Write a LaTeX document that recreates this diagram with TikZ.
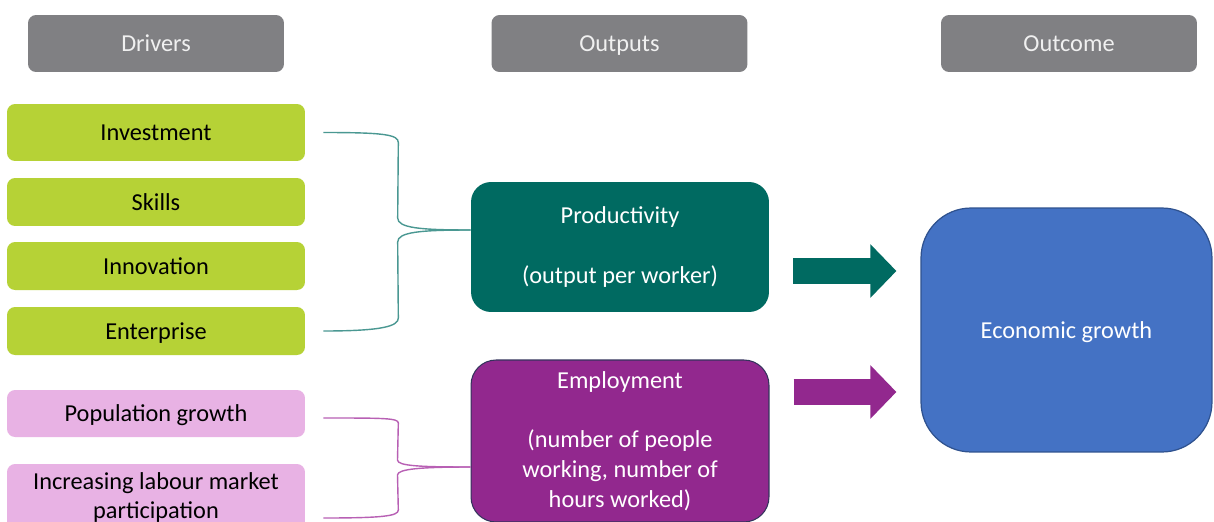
\documentclass[tikz,border=0pt]{standalone}
\usepackage{fontspec}
\setmainfont{Carlito}
\usetikzlibrary{calc,arrows.meta}
\definecolor{hdgrey}{RGB}{128,128,131}
\definecolor{drvgreen}{RGB}{182,210,54}
\definecolor{drvpink}{RGB}{232,178,228}
\definecolor{prodcol}{RGB}{0,106,97}
\definecolor{prodline}{RGB}{74,152,146}
\definecolor{empcol}{RGB}{146,40,142}
\definecolor{empline}{RGB}{184,96,180}
\definecolor{empedge}{RGB}{52,52,92}
\definecolor{econcol}{RGB}{68,114,196}
\definecolor{econedge}{RGB}{47,82,143}

\begin{document}
\begin{tikzpicture}[x=0.02cm,y=-0.02cm,
  every node/.style={font=\fontsize{13.85}{17}\selectfont, align=center, inner sep=0pt},
  oneline/.style={text height=10pt, text depth=0.4pt},
  head/.style={oneline, fill=hdgrey, text=white!94!black, minimum width=5.12cm, minimum height=1.14cm, rounded corners=0.16cm},
  driver/.style={oneline, fill=drvgreen, minimum width=5.96cm, minimum height=0.96cm, rounded corners=0.16cm},
  labour/.style={fill=drvpink, minimum width=5.96cm, minimum height=0.94cm, rounded corners=0.16cm},
  brace/.style={line width=0.8pt},
  fatarrow/.style={line width=0.52cm, -{Triangle[length=0.52cm,width=1.04cm]}}]
\useasboundingbox (0,0) rectangle (1214,521);
\clip (0,0) rectangle (1214,521);
\fill[white] (0,0) rectangle (1214,521);

% column heads
\node[head] (drivers) at (156,43.5) {Drivers};
\node[head] (outputs) at (619.5,43.5) {Outputs};
\node[head] (outcome) at (1069,43.5) {Outcome};

% drivers
\node[driver, minimum height=1.14cm] (inv) at (156,132.5) {Investment};
\node[driver] (skills) at (156,202) {Skills};
\node[driver] (innov) at (156,266) {Innovation};
\node[driver] (ent) at (156,331) {Enterprise};
\node[labour, oneline] (pop) at (156,413.5) {Population growth};
\node[labour, minimum height=1.34cm] (lab) at (156,497.5) {Increasing labour market\\participation};

% outputs and outcome
\node[fill=prodcol, text=white, minimum width=5.96cm, minimum height=2.6cm, rounded corners=0.4cm] (prod) at (620,247) {Productivity\\[17pt](output per worker)};
\node[fill=empcol, draw=empedge, line width=0.6pt, text=white, minimum width=5.96cm, minimum height=3.24cm, rounded corners=0.5cm] (emp) at (620,441) {Employment\\[17pt](number of people\\working, number of\\hours worked)};
\node[oneline, fill=econcol, draw=econedge, line width=0.7pt, text=white, minimum width=5.82cm, minimum height=4.88cm, rounded corners=1cm] (econ) at (1066.5,330) {Economic growth};

\coordinate (tb) at ($(prod.west)+(0,-17)$);
\coordinate (pb) at ($(emp.west)+(0,26)$);

% braces into the outputs
\draw[brace, prodline] ($(inv.east)+(18,0)$) .. controls +(60,0) and +(0,-8) .. ++(75,10)
  -- ($(tb)+(-73,-12)$) .. controls +(0,10) and +(-50,0) .. (tb);
\draw[brace, prodline] (tb) .. controls +(-50,0) and +(0,-10) .. ($(tb)+(-73,12)$)
  -- ($(ent.east)+(93,-13)$) .. controls +(0,8) and +(60,0) .. ($(ent.east)+(18,0)$);
\draw[brace, empline] ($(pop.east)+(18,4.5)$) .. controls +(60,0) and +(0,-5) .. ++(75,5)
  -- ($(pb)+(-73,-7)$) .. controls +(0,6) and +(-50,0) .. (pb);
\draw[brace, empline] (pb) .. controls +(-50,0) and +(0,-6) .. ($(pb)+(-73,8)$)
  -- ($(lab.east)+(93,12.5)$) .. controls +(0,6) and +(60,0) .. ($(lab.east)+(18,20.5)$);

% arrows to the outcome
\draw[fatarrow, prodcol] ($(prod.east)+(24,24)$) -- ($(econ.west)+(-24,-59)$);
\draw[fatarrow, empcol] ($(emp.east)+(24,-49)$) -- ($(econ.west)+(-24,62)$);
\end{tikzpicture}
\end{document}
